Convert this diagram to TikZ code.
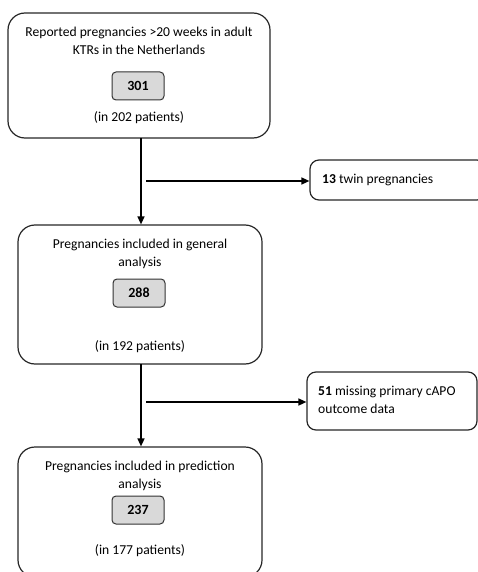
\documentclass[tikz,border=0pt]{standalone}
\usepackage{fontspec}
\setmainfont{Carlito}
\usetikzlibrary{arrows.meta}
\begin{document}
\begin{tikzpicture}[x=1pt,y=-1pt,
  bigbox/.style={draw=black!85,line width=1.2pt,rounded corners=17pt,inner sep=0pt},
  sidebox/.style={draw=black!85,line width=1.2pt,rounded corners=9pt,inner sep=0pt},
  numbox/.style={draw=black!80,fill=black!15,line width=1pt,rounded corners=4pt,minimum width=52pt,minimum height=28pt,inner sep=0pt,font=\fontsize{14}{16}\selectfont\bfseries},
  txt/.style={font=\fontsize{13.6}{18}\selectfont,align=center,inner sep=0pt},
  stxt/.style={font=\fontsize{13.6}{18}\selectfont,align=left,inner sep=0pt,anchor=west},
  arr/.style={line width=1.5pt,-{Triangle[length=8pt,width=7pt]}}]
\useasboundingbox (0,0) rectangle (478,572);
\clip (0,0) rectangle (478,572);
% main boxes
\node[bigbox,minimum width=262pt,minimum height=125pt] (b1) at (139,75.5) {};
\node[bigbox,minimum width=244pt,minimum height=139pt] (b2) at (140,294.5) {};
\node[bigbox,minimum width=244pt,minimum height=130pt] (b3) at (140,512) {};
% texts box 1
\node[txt] (t1) at (139,41) {Reported pregnancies >20 weeks in adult\\KTRs in the Netherlands};
\node[numbox] (n1) at (138,86) {301};
\node[txt] (p1) at (139,118) {(in 202 patients)};
% texts box 2
\node[txt] (t2) at (140,254) {Pregnancies included in general\\analysis};
\node[numbox] (n2) at (139,293) {288};
\node[txt] (p2) at (140,347) {(in 192 patients)};
% texts box 3
\node[txt] (t3) at (140,476) {Pregnancies included in prediction\\analysis};
\node[numbox] (n3) at (138,510) {237};
\node[txt] (p3) at (140,551) {(in 177 patients)};
% side boxes
\node[sidebox,minimum width=176pt,minimum height=40pt] (s1) at (398,180) {};
\node[stxt] (st1) at (322,180) {\textbf{13} twin pregnancies};
\node[sidebox,minimum width=170pt,minimum height=58pt] (s2) at (392,401) {};
\node[stxt] (st2) at (318,400) {\textbf{51} missing primary cAPO\\outcome data};
% connectors
\coordinate (v1) at (141,138);
\coordinate (v2) at (141,364);
\coordinate (h1) at (146,181);
\coordinate (h2) at (146,402);
\draw[arr] (v1) -- (v1 |- b2.north);
\draw[arr] (h1) -- (s1.west |- h1);
\draw[arr] (v2) -- (v2 |- b3.north);
\draw[arr] (h2) -- (s2.west |- h2);
\end{tikzpicture}
\end{document}
